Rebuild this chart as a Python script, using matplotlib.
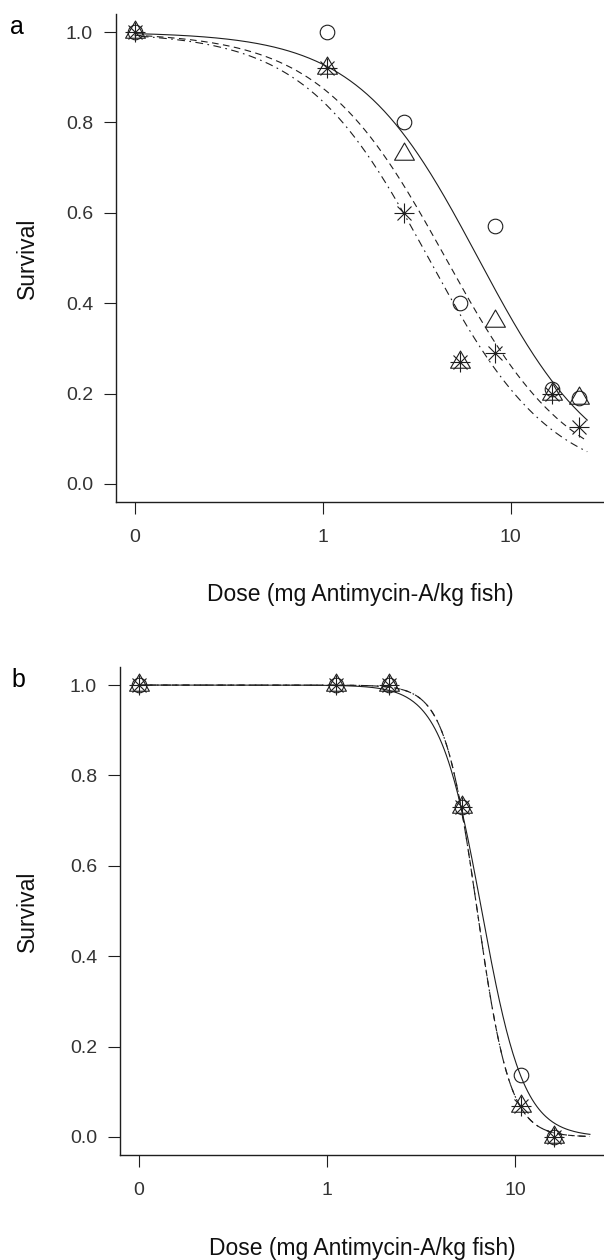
import numpy as np
import matplotlib
matplotlib.use('Agg')
import matplotlib.pyplot as plt
from matplotlib.path import Path

plt.rcParams['font.family'] = ['Liberation Sans', 'DejaVu Sans']

# panel a: data (dose 0 is drawn at the axis break)
dosis_a = [0, 1.06, 2.7, 5.4, 8.2, 16.5, 23.1]
circulo_a = [1.0, 1.0, 0.80, 0.40, 0.57, 0.21, 0.19]
triangulo_a = [1.0, 0.92, 0.73, 0.27, 0.36, 0.20, 0.19]
estrella_a = [1.0, 0.92, 0.60, 0.27, 0.29, 0.20, 0.125]
# log-logistic fits (slope b, ED50 e) for solid, dashed, dot-dash
pendiente_a = [1.35, 1.3, 1.32]
ed50_a = [6.7, 4.5, 3.65]
fin_curva_a = 25.5

# panel b
dosis_b = [0, 1.12, 2.14, 5.2, 10.8, 16.2]
circulo_b = [1.0, 1.0, 1.0, 0.73, 0.136, 0.0]
triangulo_b = [1.0, 1.0, 1.0, 0.73, 0.068, 0.0]
estrella_b = [1.0, 1.0, 1.0, 0.73, 0.068, 0.0]
pendiente_b = [3.9, 5.0, 5.0]
ed50_b = [6.66, 6.3, 6.3]
fin_curva_b = 25.0

BP = 0.1  # where dose 0 sits on the log axis
tick_vals = [BP, 1, 10]
tick_labels = ['0', '1', '10']

COLOR = '#1e1e1e'
TEXTO = '#333333'
TRI = Path([(-1, -0.577), (1, -0.577), (0, 1.155), (-1, -0.577)],
           [Path.MOVETO, Path.LINETO, Path.LINETO, Path.CLOSEPOLY])
estilos = ['-', (0, (6, 4)), (0, (1.5, 4, 7, 4))]


def panel(ax, dosis, c, t, s, pend, ed50, fin, xmax):
    x = np.array([BP if d == 0 else d for d in dosis], dtype=float)
    xx = np.logspace(np.log10(BP), np.log10(fin), 400)
    for b, e, ls in zip(pend, ed50, estilos):
        yy = 1.0 / (1.0 + (xx / e) ** b)
        ax.plot(xx, yy, color=COLOR, lw=0.8, linestyle=ls)
    ax.plot(x, c, linestyle='none', marker='o', ms=10.5, mfc='none',
            mec=COLOR, mew=0.8)
    ax.plot(x, t, linestyle='none', marker=TRI, ms=16.5, mfc='none',
            mec=COLOR, mew=0.8)
    ax.plot(x, s, linestyle='none', marker='+', ms=14.5, mec=COLOR, mew=0.8)
    ax.plot(x, s, linestyle='none', marker='x', ms=10.2, mec=COLOR, mew=0.8)

    ax.set_xscale('log')
    ax.set_xlim(0.0796, xmax)
    ax.set_ylim(-0.04, 1.04)
    ax.set_xticks(tick_vals)
    ax.set_xticklabels(tick_labels)
    ax.xaxis.set_minor_locator(matplotlib.ticker.NullLocator())
    ax.set_yticks([0, 0.2, 0.4, 0.6, 0.8, 1.0])
    ax.set_yticklabels(['0.0', '0.2', '0.4', '0.6', '0.8', '1.0'])
    ax.tick_params(direction='out', length=8.5, width=0.8, color=COLOR,
                   labelsize=14, labelcolor=TEXTO)
    ax.tick_params(axis='x', pad=11)
    ax.tick_params(axis='y', pad=8)
    for lado in ['top', 'right']:
        ax.spines[lado].set_visible(False)
    for lado in ['left', 'bottom']:
        ax.spines[lado].set_color(COLOR)
        ax.spines[lado].set_linewidth(1.0)
    ax.set_xlabel('Dose (mg Antimycin-A/kg fish)', fontsize=16.5, color='#111111')
    ax.xaxis.label.set_va('center')
    ax.set_ylabel('Survival', fontsize=16.5, color='#111111')
    ax.yaxis.label.set_va('center')


fig = plt.figure(figsize=(6.04, 12.6), dpi=100)
ax1 = fig.add_axes([116 / 604, 1 - 502 / 1260, 488 / 604, 488 / 1260])
ax2 = fig.add_axes([120 / 604, 1 - 1155 / 1260, 484 / 604, 488 / 1260])

panel(ax1, dosis_a, circulo_a, triangulo_a, estrella_a,
      pendiente_a, ed50_a, fin_curva_a, 31.3)
panel(ax2, dosis_b, circulo_b, triangulo_b, estrella_b,
      pendiente_b, ed50_b, fin_curva_b, 29.7)

ax1.xaxis.set_label_coords(0.5, (502 - 595) / 488)
ax1.yaxis.set_label_coords((27 - 116) / 488, 0.5)
ax2.xaxis.set_label_coords(0.5, (1155 - 1248) / 488)
ax2.yaxis.set_label_coords((27 - 120) / 484, 0.5)

fig.text(17 / 604, 1 - 27 / 1260, 'a', fontsize=18, ha='center', va='center')
fig.text(18 / 604, 1 - 680 / 1260, 'b', fontsize=18, ha='center', va='center')

fig.savefig('out.png', dpi=100)
